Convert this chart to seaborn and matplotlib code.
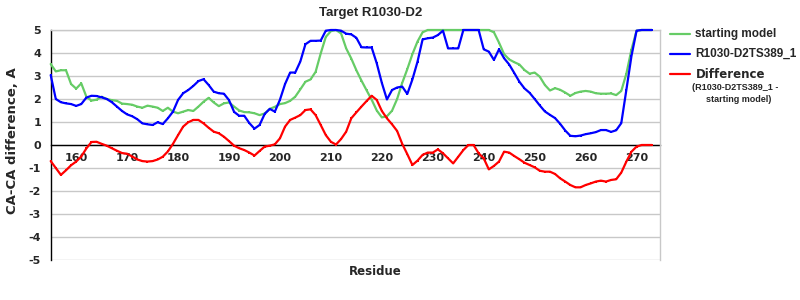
import numpy as np
import pandas as pd
import matplotlib
matplotlib.use("Agg")
import matplotlib.pyplot as plt
from matplotlib.lines import Line2D
import seaborn as sns

residues = np.arange(155, 274)

starting_model = [
    3.52, 3.2, 3.25, 3.25, 2.65, 2.45, 2.68, 2.1, 1.93, 1.97,
    2.1, 2.0, 1.95, 1.92, 1.8, 1.78, 1.75, 1.67, 1.62, 1.71,
    1.67, 1.62, 1.48, 1.62, 1.45, 1.38, 1.45, 1.52, 1.48, 1.67,
    1.88, 2.05, 1.85, 1.69, 1.81, 1.85, 1.67, 1.5, 1.43, 1.42,
    1.38, 1.3, 1.37, 1.57, 1.66, 1.78, 1.82, 1.92, 2.1, 2.42,
    2.75, 2.85, 3.18, 3.98, 4.7, 4.95, 5.0, 4.85, 4.2, 3.76,
    3.25, 2.8, 2.38, 1.97, 1.5, 1.2, 1.25, 1.49, 2.0, 2.7,
    3.3, 3.95, 4.5, 4.9, 5.0, 5.0, 5.0, 5.0, 5.0, 5.0,
    5.0, 5.0, 5.0, 5.0, 5.0, 5.0, 5.0, 4.9, 4.45, 3.95,
    3.72, 3.6, 3.5, 3.26, 3.1, 3.15, 2.97, 2.61, 2.37, 2.47,
    2.4, 2.28, 2.14, 2.26, 2.32, 2.35, 2.32, 2.25, 2.23, 2.23,
    2.24, 2.17, 2.35, 3.1, 4.15, 4.97, 5.0, 5.0, 5.0,
]

model_ts389 = [
    3.04, 2.0, 1.86, 1.81, 1.78, 1.7, 1.78, 2.06, 2.14, 2.13,
    2.07, 2.0, 1.86, 1.67, 1.48, 1.33, 1.25, 1.12, 0.94, 0.9,
    0.87, 0.99, 0.91, 1.16, 1.45, 1.96, 2.25, 2.39, 2.57, 2.78,
    2.86, 2.61, 2.32, 2.25, 2.23, 1.95, 1.44, 1.27, 1.27, 0.95,
    0.71, 0.87, 1.35, 1.57, 1.45, 1.97, 2.65, 3.15, 3.15, 3.63,
    4.38, 4.53, 4.53, 4.54, 4.97, 5.0, 5.0, 4.97, 4.84, 4.81,
    4.66, 4.25, 4.24, 4.24, 3.55, 2.7, 1.98, 2.39, 2.5, 2.54,
    2.22, 2.85, 3.62, 4.59, 4.64, 4.67, 4.78, 4.97, 4.2, 4.2,
    4.2, 5.0, 5.0, 5.0, 5.0, 4.16, 4.06, 3.7, 4.16, 3.77,
    3.5, 3.13, 2.75, 2.46, 2.27, 2.0, 1.72, 1.46, 1.31, 1.17,
    0.92, 0.63, 0.4, 0.38, 0.41, 0.47, 0.51, 0.56, 0.65, 0.65,
    0.57, 0.64, 0.95, 2.4, 3.87, 4.97, 5.0, 5.0, 5.0,
]

difference = [
    -0.7, -1.0, -1.3, -1.1, -0.88, -0.72, -0.5, -0.15, 0.13, 0.14,
    0.05, -0.03, -0.14, -0.25, -0.35, -0.38, -0.5, -0.63, -0.7, -0.72,
    -0.7, -0.63, -0.51, -0.28, 0.05, 0.43, 0.8, 0.99, 1.09, 1.09,
    0.94, 0.75, 0.58, 0.51, 0.36, 0.17, -0.03, -0.14, -0.22, -0.33,
    -0.46, -0.26, -0.07, -0.03, 0.03, 0.29, 0.8, 1.09, 1.19, 1.3,
    1.52, 1.55, 1.3, 0.87, 0.43, 0.14, 0.02, 0.26, 0.58, 1.16,
    1.42, 1.67, 1.91, 2.14, 1.96, 1.48, 1.16, 0.9, 0.61, 0.05,
    -0.4, -0.87, -0.68, -0.43, -0.33, -0.33, -0.19, -0.36, -0.58, -0.8,
    -0.51, -0.22, 0.0, 0.0, -0.36, -0.58, -1.06, -0.91, -0.72, -0.29,
    -0.33, -0.48, -0.62, -0.77, -0.87, -0.97, -1.12, -1.16, -1.16, -1.26,
    -1.45, -1.59, -1.74, -1.84, -1.84, -1.74, -1.67, -1.59, -1.55, -1.59,
    -1.52, -1.49, -1.2, -0.72, -0.29, -0.07, 0.0, 0.0, 0.0,
]

series_names = ["starting model", "R1030-D2TS389_1", "Difference"]
series_colors = ["#66cc66", "#0000ff", "#ff0000"]
x_ticks = [160, 170, 180, 190, 200, 210, 220, 230, 240, 250, 260, 270]
y_ticks = [-5, -4, -3, -2, -1, 0, 1, 2, 3, 4, 5]

df = pd.DataFrame({
    "Residue": np.concatenate([residues] * 3),
    "value": np.concatenate([starting_model, model_ts389, difference]),
    "series": np.repeat(series_names, len(residues)),
})

sns.set_style("white")
plt.rcParams["font.family"] = ["DejaVu Sans"]
plt.rcParams["axes.unicode_minus"] = False

fig = plt.figure(figsize=(8, 3), dpi=100)
ax = fig.add_axes([50.7 / 800, 1 - 260 / 300, (660 - 50.7) / 800, 230 / 300])

sns.lineplot(data=df, x="Residue", y="value", hue="series",
             hue_order=series_names, palette=dict(zip(series_names, series_colors)),
             linewidth=1.6, marker="s", markersize=2.0, markeredgewidth=0,
             legend=False, ax=ax, clip_on=False, zorder=3)

ax.set_xlim(155, 274.6)
ax.set_ylim(-5, 5)
ax.set_yticks(y_ticks)
ax.set_xticks(x_ticks)
ax.yaxis.grid(True, color="#c8c8c8", linewidth=1.0, zorder=0)
ax.xaxis.grid(False)
ax.set_axisbelow(True)

for s in ["top", "right"]:
    ax.spines[s].set_color("#c8c8c8")
    ax.spines[s].set_linewidth(1.0)
ax.spines["left"].set_color("black")
ax.spines["left"].set_linewidth(1.0)
ax.spines["bottom"].set_position(("data", 0))
ax.spines["bottom"].set_color("black")
ax.spines["bottom"].set_linewidth(1.0)
ax.spines["bottom"].set_zorder(2)

ax.tick_params(axis="x", direction="out", length=3, width=0.8, color="#a0a0a0",
               labelsize=8, pad=3)
ax.tick_params(axis="y", length=0, labelsize=8, pad=7)
for lab in ax.get_xticklabels() + ax.get_yticklabels():
    lab.set_fontweight("bold")

ax.set_xlabel("Residue", fontsize=8.5, fontweight="bold")
ax.xaxis.set_label_coords(0.532, -0.02)
ax.set_ylabel("CA-CA difference, A", fontsize=9.5, fontweight="bold")
ax.yaxis.set_label_coords(-0.052, 0.52)

fig.text(371 / 800, 1 - 13 / 300, "Target R1030-D2", ha="center", va="center",
         fontsize=9.5, fontweight="bold", family=["Liberation Sans"])

# legend
leg_y = [34, 54, 74]
for name, col, yy in zip(series_names, series_colors, leg_y):
    fig.add_artist(Line2D([670 / 800, 690 / 800], [1 - yy / 300, 1 - yy / 300],
                          color=col, linewidth=1.6, transform=fig.transFigure))
    fig.add_artist(Line2D([680 / 800], [1 - yy / 300], color=col, marker="s",
                          markersize=2, markeredgewidth=0, transform=fig.transFigure))
fig.text(695 / 800, 1 - 34 / 300, "starting model", ha="left", va="center",
         fontsize=8.5, fontweight="bold", family=["Liberation Sans"])
fig.text(695 / 800, 1 - 54 / 300, "R1030-D2TS389_1", ha="left", va="center",
         fontsize=8.5, fontweight="bold", family=["Liberation Sans"])
fig.text(696 / 800, 1 - 74 / 300, "Difference", ha="left", va="center",
         fontsize=8.5, fontweight="bold")
fig.text(691.5 / 800, 1 - 87 / 300, "(R1030-D2TS389_1 -", ha="left", va="center",
         fontsize=6.5, fontweight="bold", family=["Liberation Sans"])
fig.text(706 / 800, 1 - 99 / 300, "starting model)", ha="left", va="center",
         fontsize=6.5, fontweight="bold", family=["Liberation Sans"])

fig.savefig("out.png", dpi=100)
